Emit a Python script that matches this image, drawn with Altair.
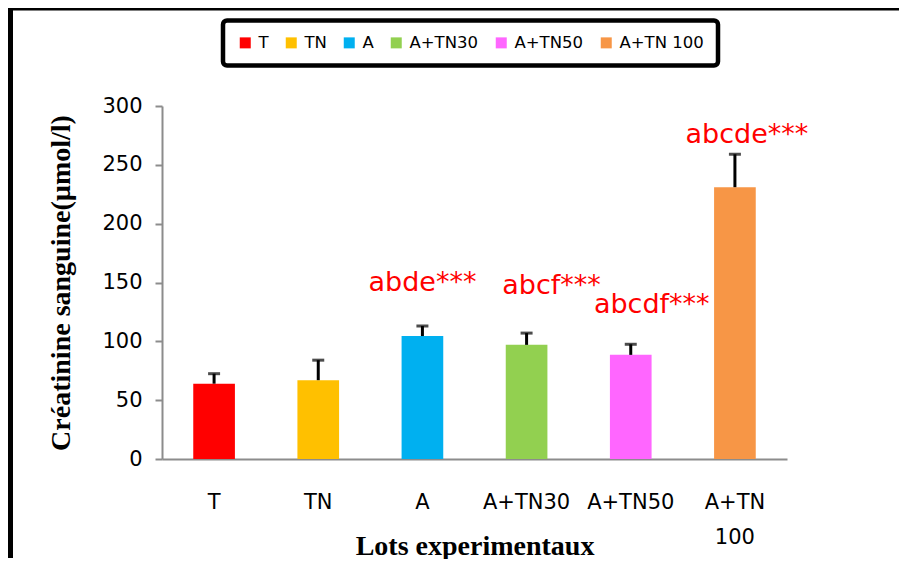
import altair as alt
import pandas as pd

# ---------------- data ----------------
groups = ["T", "TN", "A", "A+TN30", "A+TN50", "A+TN 100"]
means = [64, 67, 104.5, 97, 88.5, 231]
errors = [8.5, 17, 8.5, 10, 9, 28]
colors = ["#FF0000", "#FFC000", "#00B0F0", "#92D050", "#FF66FF", "#F79646"]
sig_labels = ["", "", "abde***", "abcf***", "abcdf***", "abcde***"]
sig_label_y = [None, None, 142.8, 140.2, 124.0, 268.5]
y_ticks = [0, 50, 100, 150, 200, 250, 300]

df = pd.DataFrame({
    "group": groups,
    "mean": means,
    "upper": [m + e for m, e in zip(means, errors)],
    "sig": sig_labels,
    "sig_y": sig_label_y,
})

# ---------------- styling ----------------
W, H = 625, 353
PAD = {"left": 154, "top": 98, "right": 112, "bottom": 100}
label_dx = {"abde***": 0, "abcf***": 25, "abcdf***": 21, "abcde***": 12}

y_axis = alt.Axis(
    title="Créatinine sanguine(µmol/l)",
    titleFont="Liberation Serif", titleFontSize=28, titleFontWeight="bold",
    titleColor="black", titleAngle=270, titleX=-101, titleY=H / 2,
    titleAlign="center", titleBaseline="middle",
    values=y_ticks, labelFont="DejaVu Sans", labelFontSize=21, labelColor="black",
    labelPadding=13, tickSize=7, tickColor="#8c8c8c", tickWidth=2,
    domainColor="#8c8c8c", domainWidth=2, grid=False,
)
x_axis = alt.Axis(
    title="Lots experimentaux",
    titleFont="Liberation Serif", titleFontSize=28, titleFontWeight="bold",
    titleColor="black", titleX=W / 2, titleY=95, titleAlign="center",
    titleBaseline="alphabetic",
    labelAngle=0, labelFont="DejaVu Sans", labelFontSize=21, labelColor="black",
    labelPadding=32, labelLineHeight=35, labelExpr="split(datum.label, ' ')",
    labelOverlap=False, labelLimit=0, ticks=False,
    domainColor="#8c8c8c", domainWidth=2, grid=False,
)

x_enc = alt.X("group:N", sort=groups,
              scale=alt.Scale(paddingInner=0.6, paddingOuter=0.3), axis=x_axis)
y_scale = alt.Scale(domain=[0, 300], nice=False)

base = alt.Chart(df)

bars = base.mark_bar().encode(
    x=x_enc,
    y=alt.Y("mean:Q", scale=y_scale, axis=y_axis),
    color=alt.Color(
        "group:N",
        scale=alt.Scale(domain=groups, range=colors),
        legend=alt.Legend(
            title=None, orient="none", legendX=61, legendY=-85.5,
            direction="horizontal", columns=6, columnPadding=14,
            symbolType="square", symbolSize=121, symbolStrokeWidth=0,
            symbolOpacity=1, labelFont="DejaVu Sans", labelFontSize=16.5,
            labelColor="black", labelOffset=5, padding=14,
            strokeColor="black", fillColor="white",
        ),
    ),
)

err_rule = base.mark_rule(color="black", strokeWidth=3).encode(
    x=x_enc,
    y=alt.Y("mean:Q", scale=y_scale, axis=y_axis),
    y2="upper:Q",
)
err_cap = base.mark_tick(color="black", thickness=3, size=12).encode(
    x=x_enc,
    y=alt.Y("upper:Q", scale=y_scale, axis=y_axis),
)

texts = []
for lab, dx in label_dx.items():
    texts.append(
        base.transform_filter(alt.datum.sig == lab)
        .mark_text(font="DejaVu Sans", fontSize=27, color="#FF0000",
                   baseline="alphabetic", align="center", dx=dx)
        .encode(x=x_enc, y=alt.Y("sig_y:Q", scale=y_scale, axis=y_axis),
                text="sig:N")
    )

# outer frame (decoration, in pixels): thick black left and top edges
frame_left = alt.Chart(pd.DataFrame({"edge": ["left"]})).mark_rect(
    color="black"
).encode(
    x=alt.value(-154), x2=alt.value(-149), y=alt.value(-100), y2=alt.value(452))
frame_top = alt.Chart(pd.DataFrame({"edge": ["top"]})).mark_rect(
    color="black"
).encode(
    x=alt.value(-156), x2=alt.value(737), y=alt.value(-99), y2=alt.value(-95.5))

chart = alt.layer(
    frame_left, frame_top, bars, err_rule, err_cap, *texts
).properties(
    width=W, height=H, padding=PAD, background="white",
    autosize=alt.AutoSizeParams(type="none"),
).configure_view(stroke=None).configure_legend(strokeWidth=4.5, cornerRadius=4)

chart.save("out.html", embed_options={"renderer": "svg", "actions": False})
